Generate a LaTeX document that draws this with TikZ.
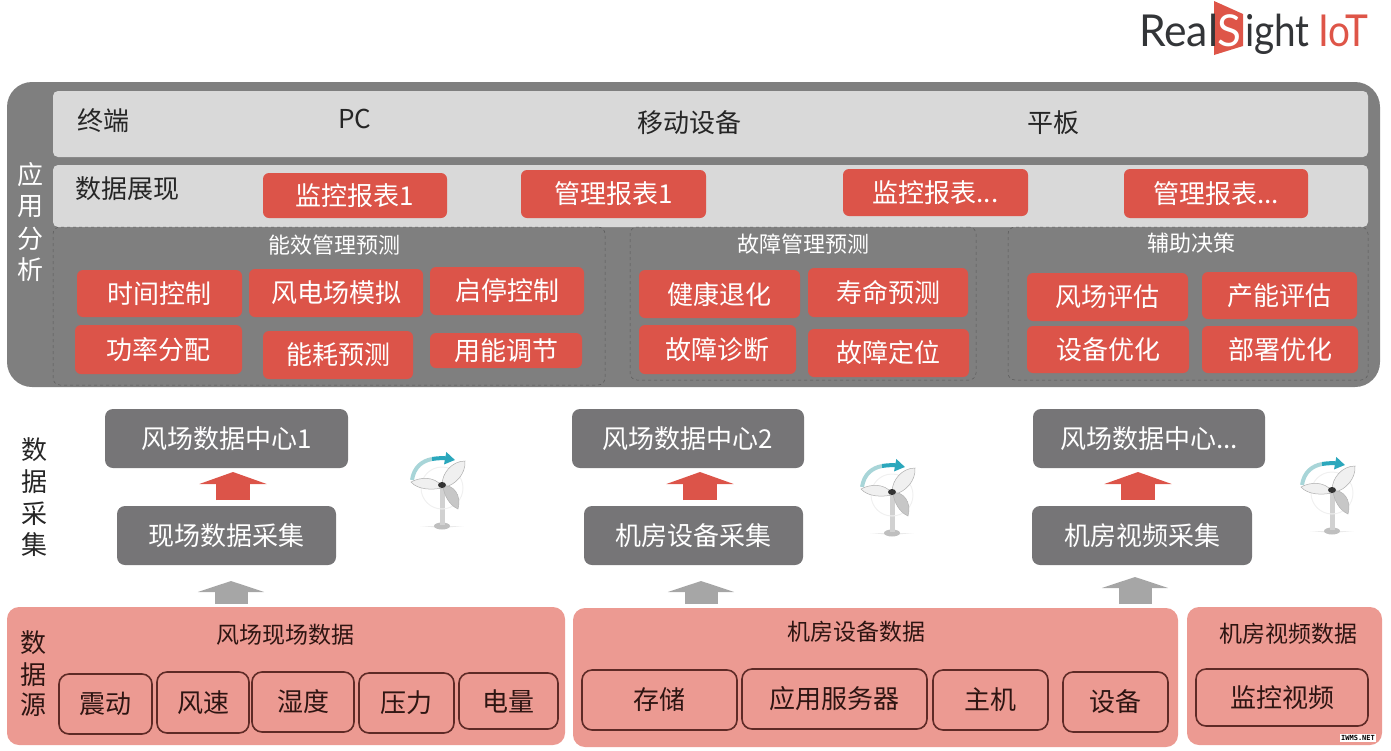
\documentclass[tikz,border=0pt]{standalone}
\usepackage{fontspec}
\setmainfont{Noto Sans CJK SC}
\newfontfamily\logofont{Lato}
\newfontfamily\wmfont{DejaVu Sans Mono}
\usetikzlibrary{arrows.meta}
\definecolor{darkgrey}{HTML}{7F7F7F}
\definecolor{boxgrey}{HTML}{767577}
\definecolor{lightbar}{HTML}{D9D9D9}
\definecolor{redbox}{HTML}{DC5449}
\definecolor{pink}{HTML}{EC9A92}
\definecolor{innerline}{HTML}{5E2A26}
\definecolor{inktext}{HTML}{2E1512}
\definecolor{teal1}{HTML}{2BA7BC}
\definecolor{teal2}{HTML}{A8D5D8}
\definecolor{logodark}{HTML}{333538}
\definecolor{logored}{HTML}{DE5548}
\newcommand\fs[1]{\fontsize{#1}{#1}\selectfont}
\newcommand\bx[7][]{\node[#2,#1,minimum width={(#5-#3)*1pt},minimum height={(#6-#4)*1pt}] at ({(#3+#5)/2},{(#4+#6)/2}) {#7};}
\tikzset{
  base/.style={inner sep=0pt,outer sep=0pt,align=center},
  redb/.style={base,fill=redbox,rounded corners=6pt,text=white,font=\fs{26}},
  greyb/.style={base,fill=boxgrey,rounded corners=8pt,text=white,font=\fs{26}},
  bar/.style={base,fill=lightbar,rounded corners=5pt},
  pinkb/.style={base,fill=pink,rounded corners=12pt},
  inb/.style={base,draw=innerline,line width=1.6pt,rounded corners=10pt,text=inktext,font=\fs{26}},
  grp/.style={base,draw=black!65,dashed,line width=.5pt,rounded corners=7pt},
  label/.style={base,font=\fs{26}},
  darklabel/.style={base,text=black!85,font=\fs{26}},
  whitelabel/.style={base,text=white,font=\fs{26}},
  title/.style={base,text=white,font=\fs{22}},
  inktitle/.style={base,text=inktext,font=\fs{23}},
  redarrow/.style={draw=redbox,line width=34pt,-{Triangle[length=12pt,width=67pt,color=redbox]}},
  greyarrow/.style={draw=black!35,line width=33pt,-{Triangle[length=11pt,width=66pt,color=black!35]}},
}
\newcommand\turbine[2]{%
\begin{scope}[shift={(#1,#2)}]
  \fill[black!8] (-22,41) -- (22,41) -- (0,43) -- cycle;
  \fill[black!25] (0,41) ellipse (8pt and 3.5pt);
  \fill[black!18] (-2.5,2) rectangle (2.5,40);
  \draw[black!6,line width=1pt] (0,3) circle (21pt);
  \draw[teal2,line width=4pt] (-30,-5) .. controls (-28,-18) and (-20,-24) .. (-10,-26);
  \draw[teal1,line width=4pt,-{Triangle[length=10pt,width=12pt,color=teal1]}] (-10,-26) .. controls (-4,-27) and (2,-27) .. (13,-25);
  \fill[black!6,draw=black!32,line width=.5pt] (0,1) .. controls (-8,-9) and (-22,-8) .. (-31,-3) .. controls (-24,5) and (-10,5) .. (0,3) -- cycle;
  \fill[black!6,draw=black!32,line width=.5pt] (0,0) .. controls (0,-12) and (10,-24) .. (23,-24) .. controls (24,-11) and (13,0) .. (3,2) -- cycle;
  \fill[black!22,draw=black!30,line width=.5pt] (1,1) .. controls (11,-1) and (20,10) .. (16,24) .. controls (7,20) and (2,10) .. (1,1) -- cycle;
  \fill[black!80] (0,0) ellipse (4pt and 3pt);
\end{scope}}
\begin{document}
\begin{tikzpicture}[x=1pt,y=-1pt]
\useasboundingbox (0,0) rectangle (1391,750);
% logo
\fill[logored] (1214,1) -- (1243,14) -- (1243,46) -- (1214,55) -- cycle;
\node[base,anchor=base west,text=logodark,font=\logofont\fs{44},xscale=.97] (logoa) at (1139,46) {Real};
\node[base,anchor=base,text=white,font=\logofont\fs{44}] (logos) at (1229,46) {S};
\node[base,anchor=base west,text=logodark,font=\logofont\fs{44},xscale=.88] (logob) at (1245,46) {ight};
\node[base,anchor=base west,text=logored,font=\logofont\fs{44},xscale=.88] (logoc) at (1318,46) {IoT};
% analysis panel
\bx[rounded corners=25pt]{base,fill=darkgrey}{7}{82}{1380}{387}{}
\bx{bar}{53}{91}{1368}{157}{}
\bx{bar}{53}{165}{1368}{227}{}
\bx{grp}{53}{227}{605}{385}{}
\bx{grp}{630}{227}{976}{380}{}
\bx{grp}{1008}{227}{1368}{380}{}
\node[darklabel] (t1) at (103,121) {终端};
\node[darklabel] (t2) at (355,119) {PC};
\node[darklabel] (t3) at (689,123) {移动设备};
\node[darklabel] (t4) at (1053,123) {平板};
\node[darklabel] (t5) at (127,189) {数据展现};
\bx{redb}{263}{173}{447}{218}{监控报表1}
\bx{redb}{521}{170}{706}{218}{管理报表1}
\bx{redb}{843}{169}{1028}{216}{监控报表...}
\bx{redb}{1124}{169}{1308}{218}{管理报表...}
\node[title] (g1) at (334,245) {能效管理预测};
\node[title] (g2) at (803,244) {故障管理预测};
\node[title] (g3) at (1191,243) {辅助决策};
\bx{redb}{77}{270}{242}{317}{时间控制}
\bx{redb}{249}{269}{423}{317}{风电场模拟}
\bx{redb}{430}{267}{584}{315}{启停控制}
\bx{redb}{75}{325}{242}{374}{功率分配}
\bx{redb}{263}{331}{413}{379}{能耗预测}
\bx{redb}{430}{333}{582}{368}{用能调节}
\bx{redb}{639}{270}{800}{318}{健康退化}
\bx{redb}{808}{268}{968}{317}{寿命预测}
\bx{redb}{639}{325}{796}{374}{故障诊断}
\bx{redb}{808}{329}{969}{377}{故障定位}
\bx{redb}{1027}{273}{1188}{321}{风场评估}
\bx{redb}{1202}{272}{1357}{319}{产能评估}
\bx{redb}{1027}{326}{1189}{373}{设备优化}
\bx{redb}{1202}{326}{1358}{373}{部署优化}
\node[whitelabel] (l1) at (30,175) {应};
\node[whitelabel] (l2) at (30,207) {用};
\node[whitelabel] (l3) at (30,239) {分};
\node[whitelabel] (l4) at (30,270) {析};
% collection
\node[darklabel] (c1) at (34,450) {数};
\node[darklabel] (c2) at (34,482) {据};
\node[darklabel] (c3) at (34,514) {采};
\node[darklabel] (c4) at (34,545) {集};
\bx[name=dc1]{greyb}{105}{409}{348}{468}{风场数据中心1}
\bx[name=dc2]{greyb}{572}{409}{804}{468}{风场数据中心2}
\bx[name=dc3]{greyb}{1033}{409}{1265}{468}{风场数据中心...}
\bx[name=co1]{greyb}{117}{506}{336}{565}{现场数据采集}
\bx[name=co2]{greyb}{584}{506}{803}{565}{机房设备采集}
\bx[name=co3]{greyb}{1032}{506}{1252}{565}{机房视频采集}
\turbine{442}{485}
\turbine{892}{492}
\turbine{1332}{490}
% sources
\bx[name=s1]{pinkb}{7}{607}{565}{745}{}
\bx[name=s2]{pinkb}{573}{608}{1178}{747}{}
\bx[name=s3]{pinkb}{1187}{607}{1382}{745}{}
\coordinate (ra1a) at (233,500); \coordinate (ra1b) at (233,472);
\coordinate (ra2a) at (700,500); \coordinate (ra2b) at (700,472);
\coordinate (ra3a) at (1138,500); \coordinate (ra3b) at (1138,472);
\coordinate (ga1a) at (231,604); \coordinate (ga1b) at (231,581);
\coordinate (ga2a) at (701,604); \coordinate (ga2b) at (701,581);
\coordinate (ga3a) at (1135,604); \coordinate (ga3b) at (1135,577);
\draw[redarrow] (ra1a) -- (ra1b);
\draw[redarrow] (ra2a) -- (ra2b);
\draw[redarrow] (ra3a) -- (ra3b);
\draw[greyarrow] (ga1a) -- (ga1b);
\draw[greyarrow] (ga2a) -- (ga2b);
\draw[greyarrow] (ga3a) -- (ga3b);
\node[inktitle] (st1) at (285,635) {风场现场数据};
\node[inktitle] (st2) at (856,632) {机房设备数据};
\node[inktitle] (st3) at (1288,634) {机房视频数据};
\node[base,text=inktext,font=\fs{26}] (d1) at (33,643) {数};
\node[base,text=inktext,font=\fs{26}] (d2) at (33,675) {据};
\node[base,text=inktext,font=\fs{26}] (d3) at (33,705) {源};
\bx{inb}{59}{674}{152}{734}{震动}
\bx{inb}{157}{672}{249}{733}{风速}
\bx{inb}{252}{672}{354}{732}{湿度}
\bx{inb}{359}{673}{454}{733}{压力}
\bx{inb}{459}{673}{558}{729}{电量}
\bx{inb}{582}{670}{737}{730}{存储}
\bx{inb}{742}{669}{927}{729}{应用服务器}
\bx{inb}{933}{670}{1048}{730}{主机}
\bx{inb}{1063}{672}{1168}{732}{设备}
\bx{inb}{1196}{669}{1368}{726}{监控视频}
\node[base,fill=white,text=black,font=\wmfont\bfseries\fs{7},inner xsep=1pt,inner ysep=1pt] (wm) at (1358,738) {IWMS.NET};
\end{tikzpicture}
\end{document}
